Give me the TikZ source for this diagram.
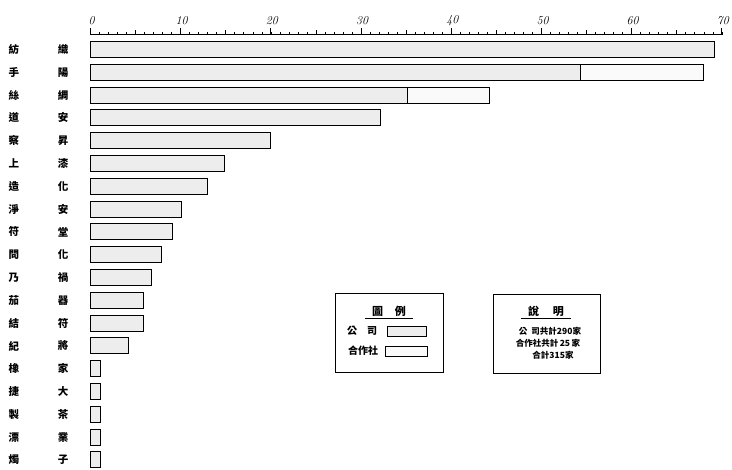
\documentclass[tikz,border=0pt]{standalone}
\usepackage{fontspec}
\newfontfamily\cjk{Noto Sans CJK TC}
\usetikzlibrary{calc}

\begin{document}
\begin{tikzpicture}[x=1pt,y=-1pt,
  rowlabel/.style={font=\cjk\bfseries\fontsize{10.5}{12}\selectfont, inner sep=0pt},
  axisnum/.style={font=\fontsize{12}{14}\selectfont\itshape, inner sep=0pt},
  firmbar/.style={draw=black, line width=0.9pt, fill=black!7},
  coopbar/.style={draw=black, line width=0.9pt, fill=black!2},
  legframe/.style={draw=black, line width=0.8pt},
  legtitle/.style={font=\cjk\bfseries\fontsize{11}{13}\selectfont, inner xsep=7pt, inner ysep=1.5pt},
  legentry/.style={font=\cjk\bfseries\fontsize{10}{12}\selectfont, inner sep=0pt},
  notetext/.style={font=\cjk\bfseries\fontsize{8.5}{10}\selectfont, inner sep=0pt}
]
\useasboundingbox (0,0) rectangle (732,470);
% scale along the top
\draw[line width=0.9pt] (90.5,34.7)--(722,34.7);
\foreach \i in {0,...,70} \draw[line width=0.7pt] ({90.5+9.02*\i},34.7)--++(0,-3);
\foreach \i in {5,15,...,65} \draw[line width=0.7pt] ({90.5+9.02*\i},34.7)--++(0,-4.5);
\foreach \i [count=\k from 0] in {0,10,...,70} {
  \draw[line width=0.9pt] ({90.5+9.02*\i},34.7)--++(0,-6.5);
  \node[axisnum] (num\k) at ({91.5+9.02*\i},21) {\i};
}
% rows and bars
\foreach \a/\b/\v [count=\r] in {紡/織/69.2, 手/陽/68.0, 絲/綢/44.2, 道/安/32.2,
  察/昇/19.9, 上/漆/14.9, 造/化/13.0, 淨/安/10.1, 符/堂/9.1, 問/化/7.9,
  乃/禍/6.8, 茄/器/5.9, 結/符/5.9, 紀/將/4.2, 橡/家/1.05, 捷/大/1.05,
  製/茶/1.05, 漂/業/1.05, 燭/子/1.05} {
  \pgfmathsetmacro\yy{49.5+22.8*(\r-1)}
  \pgfmathsetmacro\xe{90.5+9.02*\v}
  \node[rowlabel] (first\r) at (14,\yy) {\a};
  \node[rowlabel] (second\r) at (63,\yy) {\b};
  \draw[firmbar] (90.5,\yy-8) rectangle (\xe,\yy+8);
}
% cooperative parts
\draw[coopbar] (580.3,64.3) rectangle (703.9,80.3);
\draw[coopbar] (407.1,87.1) rectangle (489.1,103.1);
% legend
\draw[legframe] (335,293) rectangle (443,372);
\node[legtitle] (keytitle) at (389,311) {圖\hspace{12pt}例};
\draw[line width=0.6pt] (keytitle.south west)--(keytitle.south east);
\node[legentry] (keyfirm) at (362,331) {公\hspace{10pt}司};
\node[firmbar, minimum width=39pt, minimum height=10pt, inner sep=0pt] (keyfirmbox) at (406.5,331) {};
\node[legentry] (keycoop) at (363,351) {合作社};
\node[coopbar, minimum width=42pt, minimum height=10pt, inner sep=0pt] (keycoopbox) at (406,351) {};
% notes
\draw[legframe] (493,294) rectangle (600,373);
\node[legtitle] (notetitle) at (546,311) {說\hspace{14pt}明};
\draw[line width=0.6pt] (notetitle.south west)--(notetitle.south east);
\node[notetext] (notefirm) at (550,331) {公\hspace{4pt}司共計290家};
\node[notetext] (notecoop) at (548,343) {合作社共計\,25\,家};
\node[notetext] (notetotal) at (553,355) {合計315家};
\end{tikzpicture}
\end{document}
